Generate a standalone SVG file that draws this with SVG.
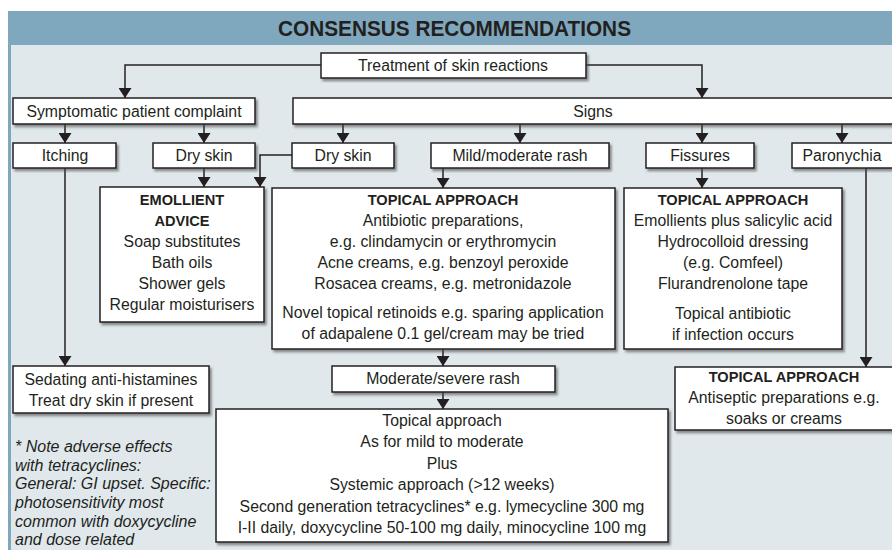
<svg xmlns="http://www.w3.org/2000/svg" width="892" height="550" viewBox="0 0 892 550">
<style>
.box{fill:#fff;stroke:#231f20;stroke-width:1.5;filter:url(#sh)}
.t{font-family:"Liberation Sans",Arial,sans-serif;font-size:15.8px;fill:#231f20;text-anchor:middle}
.b{font-family:"Liberation Sans",Arial,sans-serif;font-size:14.6px;font-weight:bold;fill:#231f20;text-anchor:middle}
.n{font-family:"Liberation Sans",Arial,sans-serif;font-size:16px;font-style:italic;fill:#231f20}
.c{fill:none;stroke:#231f20;stroke-width:1.5;marker-end:url(#ah)}
</style>
<defs>
<filter id="sh" x="-5%" y="-10%" width="115%" height="130%">
<feDropShadow dx="2" dy="2.5" stdDeviation="1.3" flood-color="#4a4a4a" flood-opacity="0.6"/>
</filter>
<marker id="ah" viewBox="0 0 10 13" refX="10" refY="6.5" markerWidth="10" markerHeight="13" markerUnits="userSpaceOnUse" orient="auto">
<path d="M0,0 L10,6.5 L0,13 z" fill="#231f20"/>
</marker>
</defs>
<rect x="0" y="0" width="892" height="550" fill="#fff"/>
<rect x="8" y="11" width="890" height="34" fill="#7fa8be"/>
<rect x="8" y="45" width="890" height="510" fill="#e0e8ec"/>
<rect x="8" y="45" width="3" height="510" fill="#7fa8be"/>
<text x="454.5" y="36" font-family="'Liberation Sans',Arial,sans-serif" font-size="22" font-weight="bold" fill="#231f20" text-anchor="middle" textLength="353" lengthAdjust="spacingAndGlyphs">CONSENSUS RECOMMENDATIONS</text>

<g id="connectors">
<path class="c" d="M321,65 H125 V98"/>
<path class="c" d="M586,65 H702 V98"/>
<path class="c" d="M65,124 V143"/>
<path class="c" d="M204,124 V143"/>
<path class="c" d="M343,124 V143"/>
<path class="c" d="M520,124 V143"/>
<path class="c" d="M702,124 V143"/>
<path class="c" d="M842,124 V143"/>
<path class="c" d="M65,168 V366"/>
<path class="c" d="M204,168 V187"/>
<path class="c" d="M292,155 H260 V187"/>
<path class="c" d="M443,168 V188"/>
<path class="c" d="M702,168 V188"/>
<path class="c" d="M866,168 V367"/>
<path class="c" d="M443,349 V366"/>
<path class="c" d="M443,392 V409"/>
</g>

<g id="treatment"><rect class="box" x="321" y="53" width="265" height="25"/><text class="t" x="453" y="71">Treatment of skin reactions</text></g>
<g id="symptomatic"><rect class="box" x="13" y="98" width="242" height="26"/><text class="t" x="134" y="116.5">Symptomatic patient complaint</text></g>
<g id="signs"><rect class="box" x="293" y="98" width="620" height="26"/><text class="t" x="593" y="116.5">Signs</text></g>

<g id="itching"><rect class="box" x="13" y="143" width="103" height="25"/><text class="t" x="65" y="161">Itching</text></g>
<g id="dryskin1"><rect class="box" x="153" y="143" width="102" height="25"/><text class="t" x="204" y="161">Dry skin</text></g>
<g id="dryskin2"><rect class="box" x="292" y="143" width="102" height="25"/><text class="t" x="343" y="161">Dry skin</text></g>
<g id="mildrash"><rect class="box" x="431" y="143" width="178" height="25"/><text class="t" x="520" y="161">Mild/moderate rash</text></g>
<g id="fissures"><rect class="box" x="646" y="143" width="108" height="25"/><text class="t" x="700" y="161">Fissures</text></g>
<g id="paronychia"><rect class="box" x="792" y="143" width="120" height="25"/><text class="t" x="842" y="161">Paronychia</text></g>

<g id="emollient"><rect class="box" x="100" y="187" width="164" height="135"/>
<text class="b" x="182" y="205">EMOLLIENT</text>
<text class="b" x="182" y="226">ADVICE</text>
<text class="t" x="182" y="246.5">Soap substitutes</text>
<text class="t" x="182" y="268">Bath oils</text>
<text class="t" x="182" y="289">Shower gels</text>
<text class="t" x="182" y="310">Regular moisturisers</text></g>

<g id="topical-rash"><rect class="box" x="272" y="188" width="343" height="161"/>
<text class="b" x="443" y="205">TOPICAL APPROACH</text>
<text class="t" x="443" y="225.5">Antibiotic preparations,</text>
<text class="t" x="443" y="247">e.g. clindamycin or erythromycin</text>
<text class="t" x="443" y="268">Acne creams, e.g. benzoyl peroxide</text>
<text class="t" x="443" y="289">Rosacea creams, e.g. metronidazole</text>
<text class="t" x="443" y="318">Novel topical retinoids e.g. sparing application</text>
<text class="t" x="443" y="339">of adapalene 0.1 gel/cream may be tried</text></g>

<g id="topical-fissures"><rect class="box" x="624" y="188" width="218" height="161"/>
<text class="b" x="733" y="205">TOPICAL APPROACH</text>
<text class="t" x="733" y="225.5">Emollients plus salicylic acid</text>
<text class="t" x="733" y="247">Hydrocolloid dressing</text>
<text class="t" x="733" y="268">(e.g. Comfeel)</text>
<text class="t" x="733" y="289">Flurandrenolone tape</text>
<text class="t" x="733" y="319">Topical antibiotic</text>
<text class="t" x="733" y="340">if infection occurs</text></g>

<g id="sedating"><rect class="box" x="13" y="366" width="196" height="47"/>
<text class="t" x="111" y="385">Sedating anti-histamines</text>
<text class="t" x="111" y="405.5">Treat dry skin if present</text></g>

<g id="moderate"><rect class="box" x="332" y="366" width="223" height="26"/><text class="t" x="443" y="384">Moderate/severe rash</text></g>

<g id="topical-paronychia"><rect class="box" x="675" y="367" width="240" height="63"/>
<text class="b" x="784" y="382">TOPICAL APPROACH</text>
<text class="t" x="784" y="403">Antiseptic preparations e.g.</text>
<text class="t" x="784" y="424">soaks or creams</text></g>

<g id="systemic"><rect class="box" x="216" y="409" width="452" height="133"/>
<text class="t" x="442" y="425.5">Topical approach</text>
<text class="t" x="442" y="447">As for mild to moderate</text>
<text class="t" x="442" y="468.5">Plus</text>
<text class="t" x="442" y="490">Systemic approach (&gt;12 weeks)</text>
<text class="t" x="442" y="511.5">Second generation tetracyclines* e.g. lymecycline 300 mg</text>
<text class="t" x="442" y="533">I-II daily, doxycycline 50-100 mg daily, minocycline 100 mg</text></g>

<g id="note">
<text class="n" x="15" y="452">* Note adverse effects</text>
<text class="n" x="15" y="470.5">with tetracyclines:</text>
<text class="n" x="15" y="489">General: GI upset. Specific:</text>
<text class="n" x="15" y="508">photosensitivity most</text>
<text class="n" x="15" y="526.5">common with doxycycline</text>
<text class="n" x="15" y="545">and dose related</text>
</g>
</svg>
